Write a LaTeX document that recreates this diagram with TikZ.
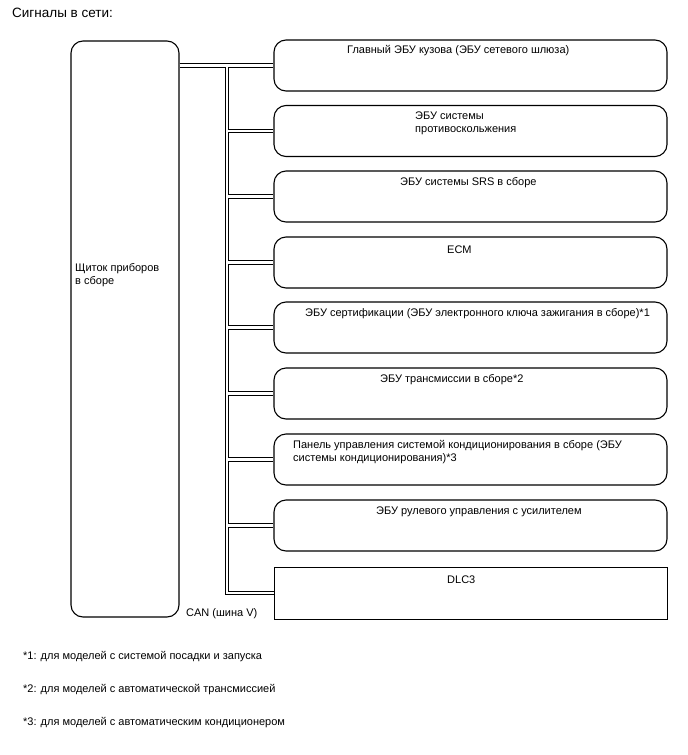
\documentclass[tikz,border=0pt]{standalone}
\usepackage{fontspec}
\setmainfont{Liberation Sans}
\usetikzlibrary{positioning}

\begin{document}
\begin{tikzpicture}[x=1pt, y=-1pt,
    ecu/.style={draw, line width=1.1pt, rounded corners=12pt,
                minimum width=393pt, minimum height=51pt},
    txt/.style={font=\fontsize{11}{13}\selectfont, align=left,
                inner sep=0pt, anchor=west},
    bus/.style={double, line width=1pt, double distance=2.4pt}]
  \useasboundingbox (0,0) rectangle (688,755);
  \node[txt, font=\fontsize{13.5}{16}\selectfont] (title) at (12,13) {Сигналы в сети:};

  % combination meter
  \node[draw, line width=1.1pt, rounded corners=12pt,
        minimum width=108pt, minimum height=576pt] (ipc) at (125,329) {};
  \node[txt] (ipctxt) at (75,275) {Щиток приборов\\в сборе};

  % units on the bus
  \node[ecu] (gw)   at (470.5,65.5)  {};
  \node[ecu] (abs)  at (470.5,131)   {};
  \node[ecu] (srs)  at (470.5,196.5) {};
  \node[ecu] (ecm)  at (470.5,262.5) {};
  \node[ecu] (cert) at (470.5,327.5) {};
  \node[ecu] (tm)   at (470.5,393.5) {};
  \node[ecu] (ac)   at (470.5,459.5) {};
  \node[ecu] (eps)  at (470.5,525.5) {};
  \node[ecu, rounded corners=0pt, line width=1pt, minimum height=52pt] (dlc) at (470.5,593) {};

  \node[txt] at (347,51)    {Главный ЭБУ кузова (ЭБУ сетевого шлюза)};
  \node[txt] at (415,123.5) {ЭБУ системы\\противоскольжения};
  \node[txt] at (400,183)   {ЭБУ системы SRS в сборе};
  \node[txt] at (447,250)   {ECM};
  \node[txt] at (305,314)   {ЭБУ сертификации (ЭБУ электронного ключа зажигания в сборе)*1};
  \node[txt] at (380,380)   {ЭБУ трансмиссии в сборе*2};
  \node[txt] at (293,452.5) {Панель управления системой кондиционирования в сборе (ЭБУ\\системы кондиционирования)*3};
  \node[txt] at (376,512)   {ЭБУ рулевого управления с усилителем};
  \node[txt] at (447,580)   {DLC3};

  % CAN bus
  \coordinate (trunk) at (227,65.5);
  \draw[bus] (ipc.east |- gw.west) -- (gw.west)
    (trunk) |- (dlc.west)
    foreach \n in {abs,srs,ecm,cert,tm,ac,eps} {(trunk |- \n.west) -- (\n.west)};
  \node[txt] (can) at (186,614) {CAN (шина V)};

  % notes
  \node[txt] (n1) at (23,657) {*1: для моделей с системой посадки и запуска};
  \node[txt] (n2) at (23,690) {*2: для моделей с автоматической трансмиссией};
  \node[txt] (n3) at (23,723) {*3: для моделей с автоматическим кондиционером};
\end{tikzpicture}
\end{document}
